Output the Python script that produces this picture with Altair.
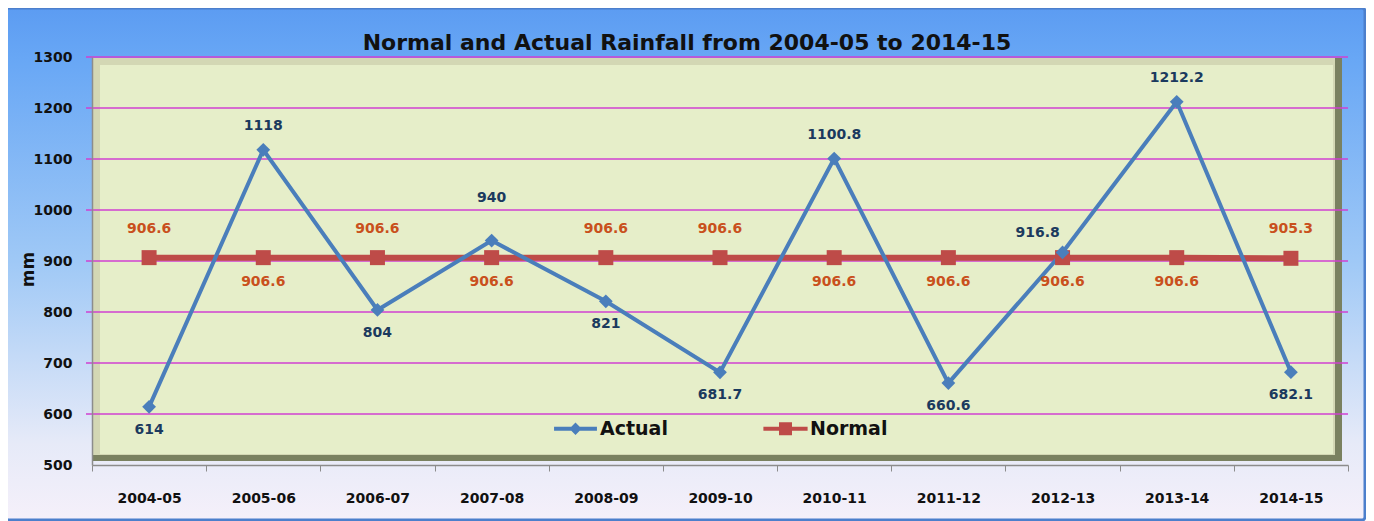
import altair as alt
import pandas as pd

categories = ["2004-05", "2005-06", "2006-07", "2007-08", "2008-09", "2009-10",
              "2010-11", "2011-12", "2012-13", "2013-14", "2014-15"]
actual = [614, 1118, 804, 940, 821, 681.7, 1100.8, 660.6, 916.8, 1212.2, 682.1]
normal = [906.6, 906.6, 906.6, 906.6, 906.6, 906.6, 906.6, 906.6, 906.6, 906.6, 905.3]
y_ticks = [500, 600, 700, 800, 900, 1000, 1100, 1200, 1300]
series_names = ["Actual", "Normal"]

# where each data label sits relative to its point
actual_label_pos = ["below", "above", "below", "high", "below", "below",
                    "above", "below", "left", "above", "below"]
normal_label_pos = ["above", "below", "above", "below", "above", "above",
                    "below", "below", "below", "below", "above"]

W, H = 1256, 408
BLUE = "#4A7EBB"
RED = "#BE4B48"
GRID = "#D040D0"
FONT = "DejaVu Sans"

rows = []
for i, c in enumerate(categories):
    rows.append({"year": c, "series": "Actual", "value": actual[i],
                 "label": f"{actual[i]:g}", "pos": actual_label_pos[i]})
    rows.append({"year": c, "series": "Normal", "value": normal[i],
                 "label": f"{normal[i]:g}", "pos": normal_label_pos[i]})
df = pd.DataFrame(rows)
grid_df = pd.DataFrame({"tick": y_ticks[1:]})
one = pd.DataFrame({"k": [0]})

x_enc = alt.X("year:N", sort=categories,
              scale=alt.Scale(type="band", paddingInner=0, paddingOuter=0),
              axis=alt.Axis(title=None, labelFont=FONT, labelFontSize=14,
                            labelFontWeight="bold", labelColor="#111111",
                            labelAngle=0, labelPadding=20, tickBand="extent",
                            tickSize=6, tickColor="#8C8C8C", domainColor="#8C8C8C",
                            domainWidth=1.5, grid=False, zindex=1))
y_enc = alt.Y("value:Q",
              scale=alt.Scale(domain=[500, 1300], nice=False, zero=False),
              axis=alt.Axis(values=y_ticks, format="d", title="mm",
                            titleFont=FONT, titleFontSize=17, titleFontWeight="bold",
                            titleColor="#111111", titleAngle=270, titleX=-64,
                            titleY=H / 2 + 8, titleAlign="center",
                            titleBaseline="middle",
                            labelFont=FONT, labelFontSize=14, labelFontWeight="bold",
                            labelColor="#111111", labelPadding=20, ticks=False,
                            domainColor="#8C8C8C", domainWidth=1.5, grid=False,
                            zindex=1))

bg_gradient = alt.LinearGradient(
    gradient="linear", x1=0, y1=0, x2=0, y2=1,
    stops=[alt.GradientStop(offset=0, color="#5C9CF2"),
           alt.GradientStop(offset=0.1, color="#68A7F5"),
           alt.GradientStop(offset=0.5, color="#A0C9F6"),
           alt.GradientStop(offset=0.85, color="#E6EAF8"),
           alt.GradientStop(offset=1, color="#F5F0FA")])

background = alt.Chart(one).mark_rect(fill=bg_gradient, stroke="#4C7FCC",
                                      strokeWidth=3, cornerRadius=3).encode(
    x=alt.value(-86), x2=alt.value(W + 17), y=alt.value(-49), y2=alt.value(H + 55))
bevel_dark = alt.Chart(one).mark_rect(fill="#7A8160").encode(
    x=alt.value(0), x2=alt.value(W - 6), y=alt.value(1), y2=alt.value(H - 4))
bevel_light = alt.Chart(one).mark_rect(fill="#D3D7B4").encode(
    x=alt.value(0), x2=alt.value(W - 13), y=alt.value(1), y2=alt.value(H - 10))
plot_fill = alt.Chart(one).mark_rect(fill="#E6EEC9").encode(
    x=alt.value(8), x2=alt.value(W - 15), y=alt.value(8), y2=alt.value(H - 11))

grid = alt.Chart(grid_df).mark_rule(color=GRID, strokeWidth=1.5).encode(
    y=alt.Y("tick:Q"), x=alt.value(-6), x2=alt.value(W))

base = alt.Chart(df).encode(x=x_enc, y=y_enc)

line_actual = base.transform_filter(alt.datum.series == "Actual").mark_line(
    color=BLUE, strokeWidth=4)
line_normal = base.transform_filter(alt.datum.series == "Normal").mark_line(
    color=RED, strokeWidth=6)
pts_actual = base.transform_filter(alt.datum.series == "Actual").mark_point(
    shape="diamond", filled=True, size=190, color=BLUE, opacity=1)
pts_normal = base.transform_filter(alt.datum.series == "Normal").mark_point(
    shape="square", filled=True, size=225, color=RED, opacity=1)

legend_paths = [
    "M-3.3,-0.3H3.3V0.3H-3.3Z M0,-0.95L0.95,0L0,0.95L-0.95,0Z",
    "M-3.4,-0.3H3.4V0.3H-3.4Z M-1,-1H1V1H-1Z",
]
leg = alt.Legend(title=None, orient="none", legendX=474, legendY=362,
                 direction="horizontal", labelFont=FONT, labelFontSize=19,
                 labelFontWeight="bold", labelColor="#111111", symbolSize=169,
                 symbolOpacity=1, symbolStrokeWidth=0, labelOffset=15,
                 columnPadding=95, padding=0, zindex=1)
legend_layer = base.mark_point(filled=True, opacity=0).encode(
    color=alt.Color("series:N", scale=alt.Scale(domain=series_names,
                                                range=[BLUE, RED]), legend=leg),
    shape=alt.Shape("series:N", scale=alt.Scale(domain=series_names,
                                                range=legend_paths), legend=leg))

label_layers = []
actual_offsets = {"below": (0, 23), "above": (0, -24), "high": (0, -43),
                  "left": (-25, -19)}
normal_offsets = {"above": (0, -29), "below": (0, 24)}
for pos, (dx, dy) in actual_offsets.items():
    label_layers.append(
        base.transform_filter((alt.datum.series == "Actual") & (alt.datum.pos == pos))
        .mark_text(font=FONT, fontSize=14, fontWeight="bold", color="#1B3A5E",
                   dx=dx, dy=dy, baseline="middle", align="center")
        .encode(text="label:N"))
for pos, (dx, dy) in normal_offsets.items():
    label_layers.append(
        base.transform_filter((alt.datum.series == "Normal") & (alt.datum.pos == pos))
        .mark_text(font=FONT, fontSize=14, fontWeight="bold", color="#C9501C",
                   dx=dx, dy=dy, baseline="middle", align="center")
        .encode(text="label:N"))

chart = alt.layer(
    background, bevel_dark, bevel_light, plot_fill, grid,
    line_normal, line_actual, pts_normal, pts_actual, legend_layer,
    *label_layers
).properties(
    width=W, height=H,
    title=alt.Title("Normal and Actual Rainfall from 2004-05 to 2014-15",
                    font=FONT, fontSize=22, fontWeight="bold", color="#111111",
                    anchor="middle", offset=0, dx=-33, dy=65,
                    baseline="alphabetic", zindex=1),
    autosize=alt.AutoSizeParams(type="none"),
    padding={"left": 84, "top": 49, "right": 18, "bottom": 56},
).configure_view(stroke=None, fill=None).configure(font=FONT)

chart.save("out.html", embed_options={"renderer": "svg", "actions": False})
